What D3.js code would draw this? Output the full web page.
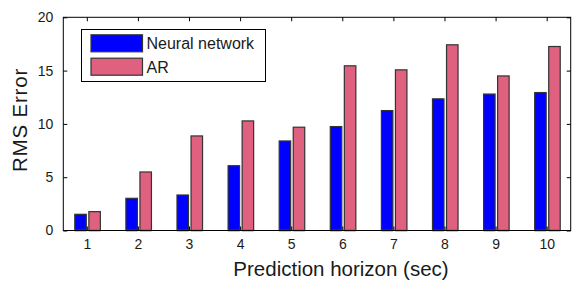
<!DOCTYPE html>
<html>
<head>
<meta charset="utf-8">
<script src="https://cdn.jsdelivr.net/npm/d3@7"></script>
<style>
  body { margin: 0; background: #fff; }
  svg { display: block; font-family: "Liberation Sans", Arial, sans-serif; }
</style>
</head>
<body>
<div id="chart"></div>
<script>
// chart data
var horizons = [1, 2, 3, 4, 5, 6, 7, 8, 9, 10];
var neuralNet = [1.52, 3.02, 3.33, 6.08, 8.4, 9.75, 11.25, 12.35, 12.8, 12.94];
var arModel = [1.77, 5.49, 8.87, 10.28, 9.69, 15.45, 15.07, 17.42, 14.5, 17.26];
var yTicks = [0, 5, 10, 15, 20];
var seriesNames = ["Neural network", "AR"];

var width = 573, height = 284;
var svg = d3.select("#chart").append("svg")
  .attr("width", width)
  .attr("height", height);

var x = d3.scaleLinear().domain([0.54, 10.47]).range([63.3, 570.7]);
var y = d3.scaleLinear().domain([0, 20]).range([230.5, 17.3]);

var colors = ["#0000ff", "#e0617f"];
var barW = 0.225;
var offsets = [-0.1225, 0.1525];
var series = [neuralNet, arModel];

// bars
series.forEach(function(vals, s) {
  var g = svg.append("g");
  g.selectAll("rect").data(vals).enter().append("rect")
    .attr("x", function(d, i) { return x(horizons[i] + offsets[s] - barW / 2); })
    .attr("y", function(d) { return y(d); })
    .attr("width", function() { return x(barW) - x(0); })
    .attr("height", function(d) { return y(0) - y(d); })
    .attr("fill", colors[s])
    .attr("stroke", "#333")
    .attr("stroke-width", 1.2);
  // red base edge
  g.selectAll("line").data(vals).enter().append("line")
    .attr("x1", function(d, i) { return x(horizons[i] + offsets[s] - barW / 2); })
    .attr("x2", function(d, i) { return x(horizons[i] + offsets[s] + barW / 2); })
    .attr("y1", y(0)).attr("y2", y(0))
    .attr("stroke", "#ff2020")
    .attr("stroke-width", 1.5);
});

// frame
var x0 = x.range()[0], x1 = x.range()[1], yb = y(0), yt = y(20);
svg.append("rect")
  .attr("x", x0).attr("y", yt)
  .attr("width", x1 - x0).attr("height", yb - yt)
  .attr("fill", "none").attr("stroke", "#000").attr("stroke-width", 1);

// axes with inside ticks
var axBottom = svg.append("g").attr("transform", "translate(0," + yb + ")")
  .call(d3.axisBottom(x).tickValues(horizons).tickSize(-4).tickPadding(9).tickFormat(d3.format("d")));
var axTop = svg.append("g").attr("transform", "translate(0," + yt + ")")
  .call(d3.axisTop(x).tickValues(horizons).tickSize(-4).tickFormat(""));
var axLeft = svg.append("g").attr("transform", "translate(" + x0 + ",0)")
  .call(d3.axisLeft(y).tickValues(yTicks).tickSize(-4).tickPadding(10));
var axRight = svg.append("g").attr("transform", "translate(" + x1 + ",0)")
  .call(d3.axisRight(y).tickValues(yTicks).tickSize(-4).tickFormat(""));

[axBottom, axTop, axLeft, axRight].forEach(function(a) {
  a.select(".domain").remove();
  a.selectAll(".tick line").attr("stroke", "#000");
  a.selectAll("text").attr("font-size", 14).attr("fill", "#1a1a1a")
    .attr("font-family", "Liberation Sans, Arial, sans-serif");
});

// axis labels
svg.append("text")
  .attr("x", 341).attr("y", 276)
  .attr("text-anchor", "middle")
  .attr("font-size", 20.5).attr("fill", "#1a1a1a")
  .text("Prediction horizon (sec)");
svg.append("text")
  .attr("transform", "translate(27,120) rotate(-90)")
  .attr("text-anchor", "middle")
  .attr("font-size", 20.5).attr("letter-spacing", 0.8).attr("fill", "#1a1a1a")
  .text("RMS Error");

// legend
var legend = svg.append("g");
legend.append("rect")
  .attr("x", 81.5).attr("y", 29.5).attr("width", 184).attr("height", 52)
  .attr("fill", "#fff").attr("stroke", "#000").attr("stroke-width", 1);
seriesNames.forEach(function(name, i) {
  var cy = 43.3 + i * 23.4;
  legend.append("rect")
    .attr("x", 91).attr("y", cy - 8.5).attr("width", 51.5).attr("height", 17)
    .attr("fill", colors[i]).attr("stroke", "#333").attr("stroke-width", 1.2);
  legend.append("text")
    .attr("x", 146.5).attr("y", cy + 6)
    .attr("font-size", 16).attr("fill", "#1a1a1a")
    .text(name);
});
</script>
</body>
</html>
